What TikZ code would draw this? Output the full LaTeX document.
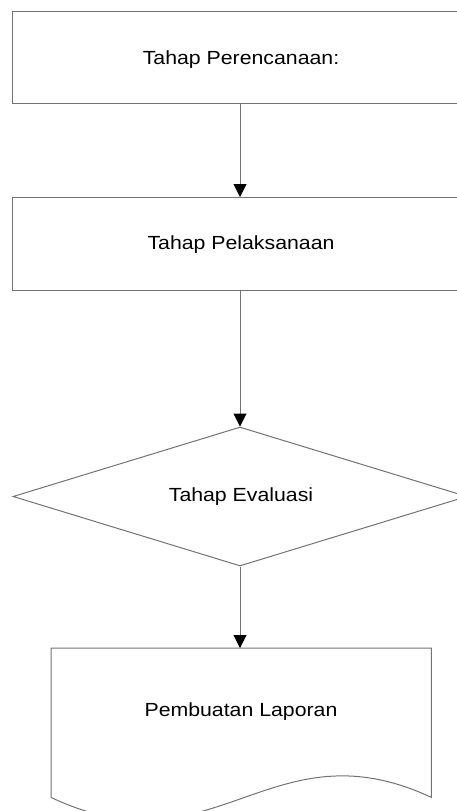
\documentclass[tikz,border=0pt]{standalone}
\usepackage{fontspec}
\setmainfont{Liberation Sans}[FakeStretch=1.12]
\usetikzlibrary{arrows.meta,shapes.geometric}
\definecolor{edgegray}{rgb}{0.45,0.45,0.45}
\begin{document}
\begin{tikzpicture}[x=1pt,y=-1pt,
  shapeline/.style={draw=edgegray,line width=1pt},
  lbl/.style={font=\fontsize{19}{21}\selectfont,text=black},
  flow/.style={draw=edgegray,line width=1pt,-{Triangle[width=13pt,length=13pt,color=black,fill=black]}}]
\useasboundingbox (0,0) rectangle (457,811);
\clip (0,0) rectangle (457,811);
\node[shapeline,rectangle,minimum width=460pt,minimum height=92pt,inner sep=0pt,anchor=north west] (plan) at (12,11) {};
\node[lbl] (plantxt) at (241,60) {Tahap Perencanaan:};
\node[shapeline,rectangle,minimum width=460pt,minimum height=93pt,inner sep=0pt,anchor=north west] (exec) at (12,197) {};
\node[lbl] (exectxt) at (241,245) {Tahap Pelaksanaan};
\node[shapeline,diamond,minimum width=454pt,minimum height=139pt,inner sep=0pt] (eval) at (240,496.5) {};
\node[lbl] (evaltxt) at (241,497) {Tahap Evaluasi};
\node[rectangle,minimum width=380pt,minimum height=149pt,inner sep=0pt,anchor=north west] (doc) at (51,648) {};
\draw[shapeline] (doc.south west) -- (doc.north west) -- (doc.north east) -- (doc.south east)
  .. controls (270,722) and (215,875) .. (doc.south west);
\node[lbl] (doctxt) at (241,712) {Pembuatan Laporan};
\draw[flow] (plan.south -| eval.north) -- (exec.north -| eval.north);
\draw[flow] (exec.south -| eval.north) -- (eval.north);
\draw[flow] (eval.south) -- (eval.south |- doc.north);
\end{tikzpicture}
\end{document}
